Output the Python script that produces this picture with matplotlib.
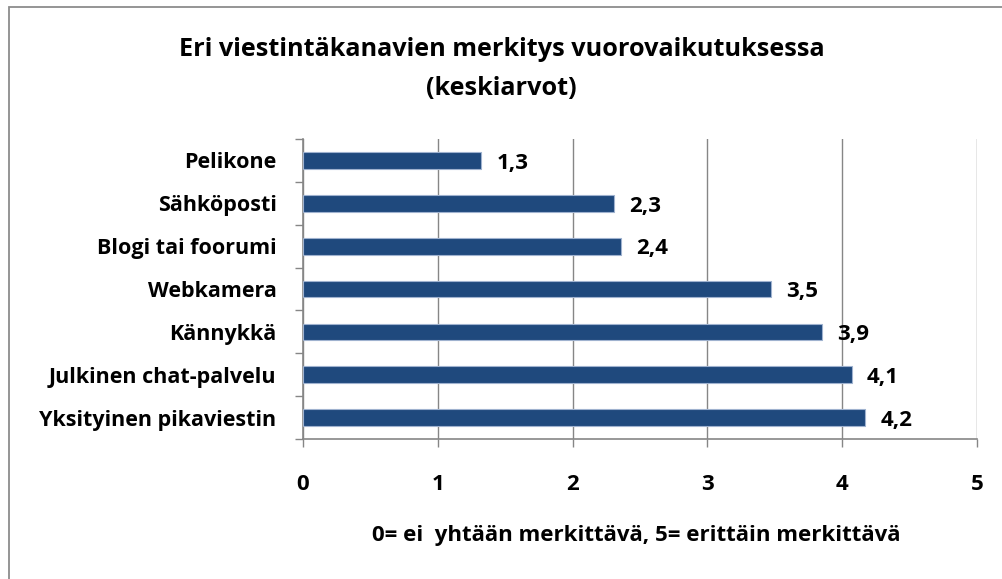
import matplotlib
matplotlib.use("Agg")
import matplotlib.pyplot as plt
from matplotlib.patches import Rectangle

plt.rcParams['font.family'] = ['Open Sans', 'DejaVu Sans']
plt.rcParams['font.weight'] = 'bold'

# data (top to bottom as in the chart)
categories = ["Pelikone", "Sähköposti", "Blogi tai foorumi", "Webkamera",
              "Kännykkä", "Julkinen chat-palvelu", "Yksityinen pikaviestin"]
values = [1.32, 2.31, 2.36, 3.47, 3.85, 4.07, 4.17]
value_labels = ["1,3", "2,3", "2,4", "3,5", "3,9", "4,1", "4,2"]
xticks = [0, 1, 2, 3, 4, 5]

title = "Eri viestintäkanavien merkitys vuorovaikutuksessa\n(keskiarvot)"
xlabel = "0= ei  yhtään merkittävä, 5= erittäin merkittävä"

bar_color = '#1F497D'
grid_color = '#868686'

fig = plt.figure(figsize=(10.03, 5.79), dpi=100)
ax = fig.add_axes([303/1003, 1 - 439/579, 674/1003, 300/579])

# outer chart frame (right/bottom run off the picture)
fig.patches.append(Rectangle((9/1003, -0.05), 1.1, 1 - 7/579 + 0.05,
                             transform=fig.transFigure, fill=False,
                             edgecolor='#8c8c8c', linewidth=1.3))

ypos = list(range(len(categories)))
ax.barh(ypos, values, height=0.39, color=bar_color, edgecolor='#9fb2cf',
        linewidth=0.8, zorder=3)

for y, v, lab in zip(ypos, values, value_labels):
    ax.annotate(lab, (v, y), xytext=(11, -2), textcoords='offset points',
                ha='left', va='center', fontsize=16, fontweight='bold')

ax.set_xlim(0, 5)
ax.set_ylim(len(categories) - 0.5, -0.5)
ax.set_xticks(xticks)
ax.set_xticklabels([str(t) for t in xticks], fontsize=16, fontweight='bold')
ax.set_yticks(ypos)
ax.set_yticklabels(categories, fontsize=15.5, fontweight='bold')
ax.set_yticks([i - 0.5 for i in range(len(categories) + 1)], minor=True)

ax.tick_params(axis='y', which='major', length=0, pad=19)
ax.tick_params(axis='y', which='minor', length=6, width=1, color=grid_color,
               direction='out')
ax.tick_params(axis='x', which='major', length=6, width=1, color=grid_color,
               direction='out', pad=19)

ax.xaxis.grid(True, color=grid_color, linewidth=1, zorder=0)
ax.set_axisbelow(True)
for s in ['top', 'right']:
    ax.spines[s].set_visible(False)
for s in ['left', 'bottom']:
    ax.spines[s].set_color(grid_color)
    ax.spines[s].set_linewidth(1.2)

fig.text(0.5, 1 - 69/579, title, ha='center', va='center', fontsize=18.2,
         fontweight='bold', linespacing=1.72)
fig.text(636/1003, 1 - 535/579, xlabel, ha='center', va='center',
         fontsize=16, fontweight='bold')

fig.savefig("out.png", dpi=100)
